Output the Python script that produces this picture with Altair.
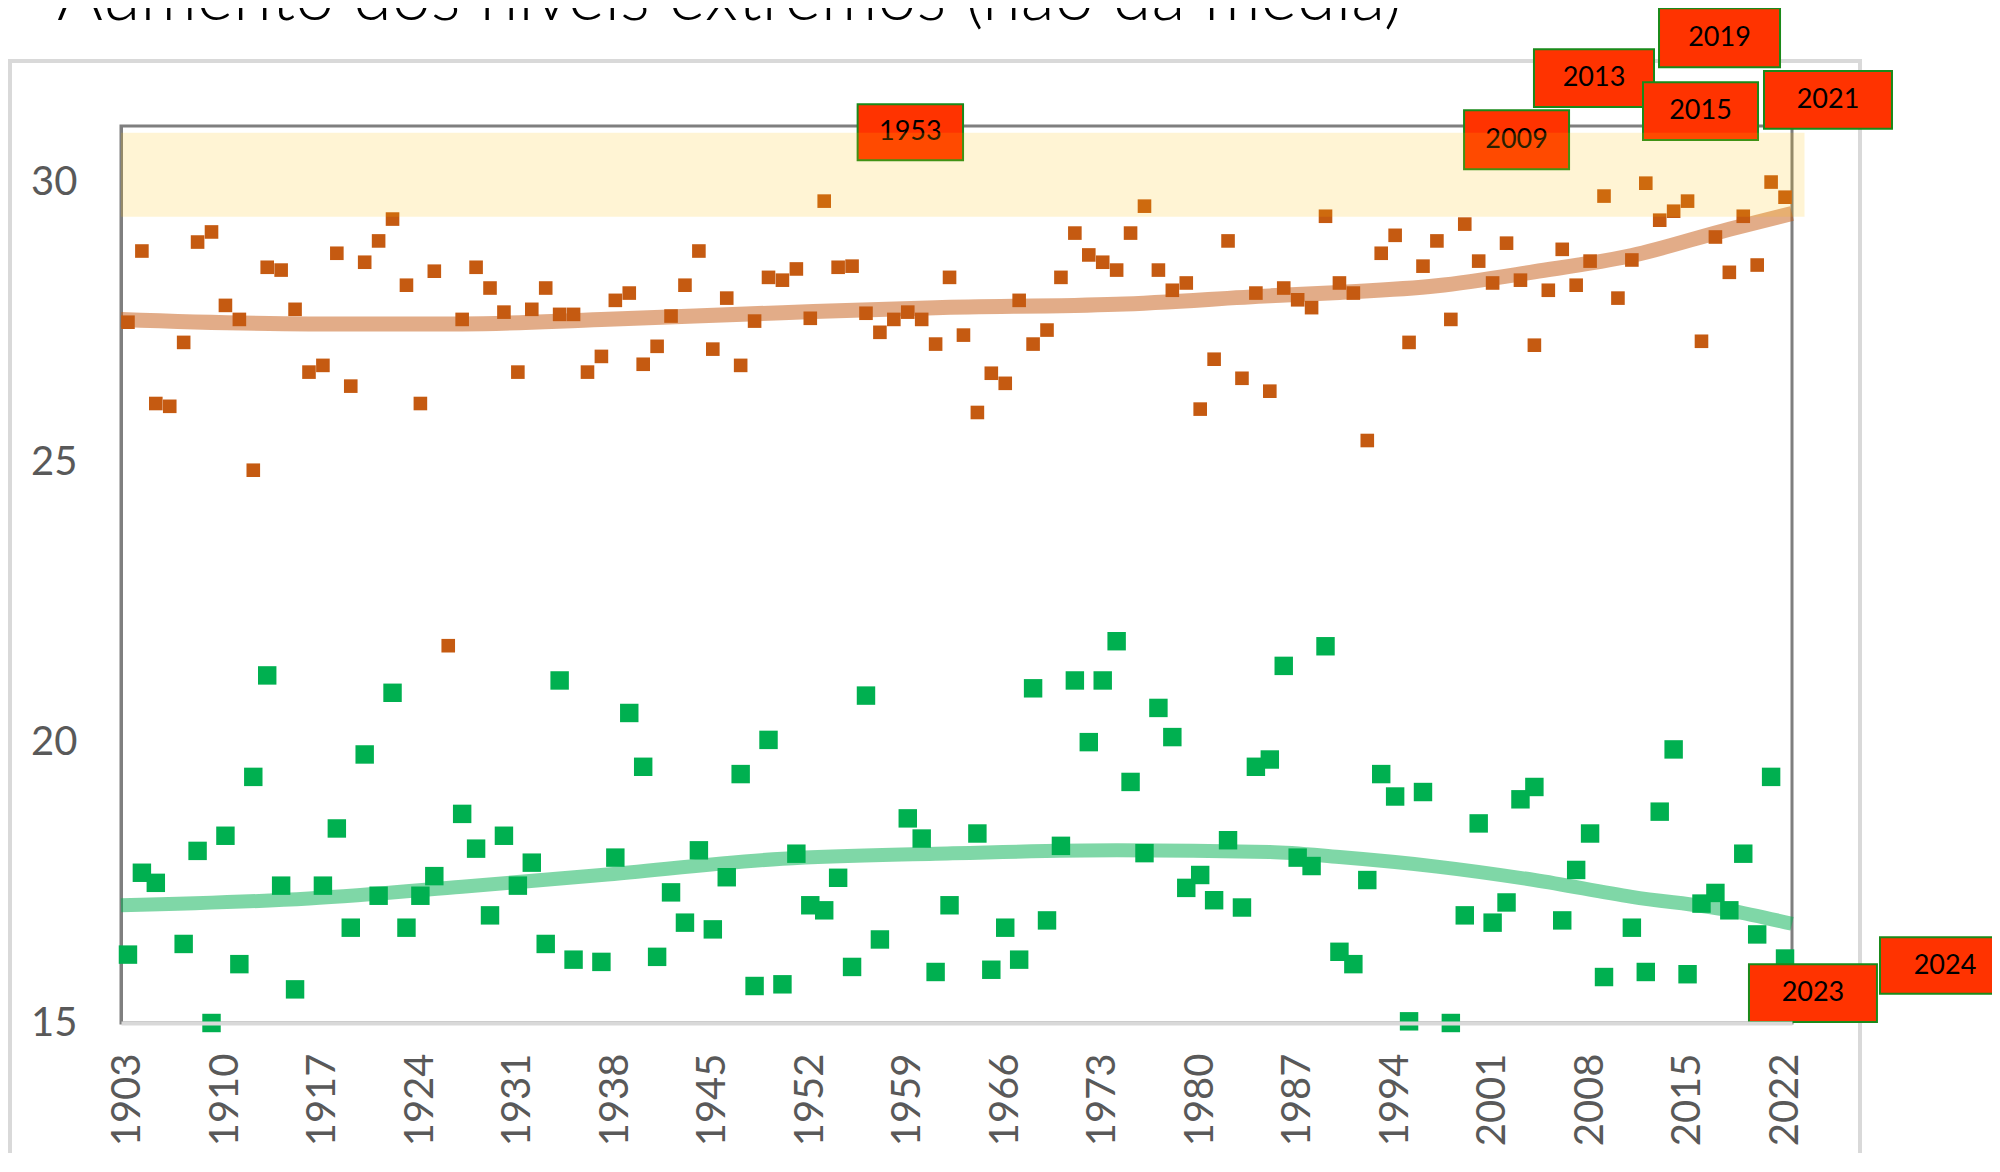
import altair as alt
import pandas as pd

# ---------------- data ----------------
years = list(range(1903, 2023))

orange_vals = [
    27.50, 28.77, 26.05, 26.00, 27.14, 28.93, 29.11, 27.80, 27.55, 24.86,  # 1903-1912
    28.48, 28.43, 27.73, 26.61, 26.73, 28.73, 26.36, 28.57, 28.95, 29.34,  # 1913-1922
    28.16, 26.05, 28.41, 21.73, 27.55, 28.48, 28.11, 27.68, 26.61, 27.73,  # 1923-1932
    28.11, 27.64, 27.64, 26.61, 26.89, 27.89, 28.02, 26.75, 27.07, 27.61,  # 1933-1942
    28.16, 28.77, 27.02, 27.93, 26.73, 27.52, 28.30, 28.25, 28.45, 27.57,  # 1943-1952
    29.66, 28.48, 28.50, 27.66, 27.32, 27.55, 27.68, 27.55, 27.11, 28.30,  # 1953-1962
    27.27, 25.89, 26.59, 26.41, 27.89, 27.11, 27.36, 28.30, 29.09, 28.70,  # 1963-1972
    28.57, 28.43, 29.09, 29.57, 28.43, 28.07, 28.20, 25.95, 26.84, 28.95,  # 1973-1982
    26.50, 28.02, 26.27, 28.11, 27.90, 27.76, 29.39, 28.20, 28.02, 25.39,  # 1983-1992
    28.73, 29.05, 27.14, 28.50, 28.95, 27.55, 29.25, 28.59, 28.20, 28.91,  # 1993-2002
    28.25, 27.09, 28.07, 28.80, 28.16, 28.59, 29.75, 27.93, 28.61, 29.98,  # 2003-2012
    29.32, 29.48, 29.66, 27.16, 29.02, 28.39, 29.39, 28.52, 30.00, 29.73,  # 2013-2022
]

green_vals = [
    16.22, 17.68, 17.50, None, 16.41, 18.07, 15.00, 18.34, 16.05, 19.39,  # 1903-1912
    21.20, 17.45, 15.60, None, 17.45, 18.47, 16.70, 19.79, 17.27, 20.89,  # 1913-1922
    16.70, 17.27, 17.62, None, 18.73, 18.11, 16.92, 18.34, 17.45, 17.86,  # 1923-1932
    16.41, 21.11, 16.13, None, 16.09, 17.95, 20.53, 19.57, 16.18, 17.33,  # 1933-1942
    16.79, 18.08, 16.67, 17.60, 19.44, 15.66, 20.05, 15.69, 18.02, 17.10,  # 1943-1952
    17.01, 17.59, 16.00, 20.84, 16.49, None, 18.65, 18.29, 15.91, 17.10,  # 1953-1962
    None, 18.38, 15.95, 16.70, 16.13, 20.97, 16.83, 18.16, 21.11, 20.01,  # 1963-1972
    21.11, 21.81, 19.30, 18.03, 20.62, 20.10, 17.41, 17.64, 17.19, 18.26,  # 1973-1982
    17.06, 19.57, 19.70, 21.37, 17.95, 17.80, 21.72, 16.27, 16.05, 17.55,  # 1983-1992
    19.44, 19.04, 15.03, 19.12, None, 15.00, 16.92, 18.56, 16.79, 17.15,  # 1993-2002
    18.99, 19.21, None, 16.83, 17.73, 18.38, 15.82, None, 16.70, 15.91,  # 2003-2012
    18.77, 19.88, 15.87, 17.13, 17.32, 17.01, 18.02, 16.58, 19.39, 16.15,  # 2013-2022
]

# trend lines
trend_years = [1902.5, 1916, 1927, 1937, 1950, 1961, 1974, 1985, 1990, 1997, 2004, 2011, 2018, 2022.5]
orange_trend = [27.55, 27.47, 27.47, 27.55, 27.67, 27.76, 27.82, 27.97, 28.03, 28.15, 28.40, 28.69, 29.16, 29.44]
green_trend = [17.10, 17.22, 17.43, 17.64, 17.93, 18.02, 18.08, 18.05, 17.96, 17.79, 17.55, 17.25, 17.01, 16.77]

tick_years = list(range(1903, 2023, 7))
y_ticks = [15, 20, 25, 30]

title_text = "Aumento dos níveis extremos (não da média)"

# highlighted "extreme" zone
band_x = [1902.5, 2023.4]
band_y = [29.38, 30.88]

# year call-outs (boxes in data units)
ann_label = ["1953", "2009", "2013", "2015", "2019", "2021", "2023", "2024"]
ann_x0 = [1955.4, 1998.95, 2003.97, 2011.8, 2012.95, 2020.49, 2019.41, 2028.82]
ann_x1 = [1962.97, 2006.49, 2012.59, 2020.06, 2021.64, 2029.68, 2028.6, 2038.15]
ann_y0 = [30.39, 30.23, 31.34, 30.75, 32.05, 30.95, 15.02, 15.52]
ann_y1 = [31.39, 31.28, 32.37, 31.78, 33.10, 31.98, 16.05, 16.53]

# ---------------- tables ----------------
orange_df = pd.DataFrame({"year": years, "value": orange_vals})
green_df = pd.DataFrame({"year": years, "value": green_vals}).dropna()
trend_df = pd.DataFrame({"year": trend_years, "orange": orange_trend, "green": green_trend})
ann_df = pd.DataFrame({"label": ann_label, "x0": ann_x0, "x1": ann_x1, "y0": ann_y0, "y1": ann_y1})
ann_df["xc"] = (ann_df["x0"] + ann_df["x1"]) / 2
ann_df["yc"] = (ann_df["y0"] + ann_df["y1"]) / 2
band_df = pd.DataFrame({"x0": [band_x[0]], "x1": [band_x[1]], "y0": [band_y[0]], "y1": [band_y[1]]})
title_df = pd.DataFrame({"t": [title_text]})
frame_df = pd.DataFrame({"k": [0]})

FONT = "Lato"
ORANGE = "#C55A11"
GREEN = "#00B050"

X_SCALE = alt.Scale(domain=[1902.5, 2022.5], nice=False, zero=False)
Y_SCALE = alt.Scale(domain=[15, 31], nice=False, zero=False)

x_axis = alt.Axis(values=tick_years, format="d", labelAngle=270, ticks=False, grid=False,
                  labelFont=FONT, labelFontSize=40, labelColor="#595959", labelPadding=30,
                  domainColor="#D9D9D9", domainWidth=4, labelOverlap=False, labelFlush=False,
                  labelBound=False, title=None, zindex=1)
y_axis = alt.Axis(values=y_ticks, ticks=False, grid=False, labelFont=FONT, labelFontSize=40,
                  labelColor="#595959", labelPadding=44, domainColor="#7F7F7F", domainWidth=3,
                  labelFlush=False, labelBound=False, title=None)


def xq(f):
    return alt.X(f"{f}:Q", scale=X_SCALE, axis=x_axis)


def yq(f):
    return alt.Y(f"{f}:Q", scale=Y_SCALE, axis=y_axis)


frame = alt.Chart(frame_df).mark_rect(fillOpacity=0, stroke="#D9D9D9", strokeWidth=4).encode(
    x=alt.value(-111), x2=alt.value(1739), y=alt.value(-65), y2=alt.value(1100)
)

title = alt.Chart(title_df).mark_text(
    align="left", baseline="alphabetic", font=FONT, fontSize=70, fontWeight=300, color="#000000"
).encode(x=alt.value(-64), y=alt.value(-106), text="t:N")

trend_o = alt.Chart(trend_df).mark_line(
    color=ORANGE, opacity=0.5, strokeWidth=15, interpolate="monotone", strokeCap="butt"
).encode(x=xq("year"), y=yq("orange"))

trend_g = alt.Chart(trend_df).mark_line(
    color=GREEN, opacity=0.5, strokeWidth=14, interpolate="monotone", strokeCap="butt"
).encode(x=xq("year"), y=yq("green"))

pts_o = alt.Chart(orange_df).mark_square(size=185, color=ORANGE, opacity=1).encode(
    x=xq("year"), y=yq("value")
)
pts_g = alt.Chart(green_df).mark_square(size=340, color=GREEN, opacity=1).encode(
    x=xq("year"), y=yq("value")
)

ann_box = alt.Chart(ann_df).mark_rect(fill="#FF3300", stroke="#1A8A1A", strokeWidth=2).encode(
    x=xq("x0"), x2="x1", y=yq("y0"), y2="y1"
)
ann_txt = alt.Chart(ann_df).mark_text(
    font=FONT, fontSize=27, color="#000000", align="center", baseline="middle"
).encode(x=xq("xc"), y=yq("yc"), text="label:N")

band = alt.Chart(band_df).mark_rect(fill="#FFC000", opacity=0.17).encode(
    x=xq("x0"), x2="x1", y=yq("y0"), y2="y1"
)

chart = alt.layer(
    frame, title, trend_o, trend_g, pts_o, pts_g, ann_box, ann_txt, band
).properties(
    width=1671,
    height=897,
    autosize=alt.AutoSizeParams(type="none"),
    padding={"left": 113, "top": 118, "right": 200, "bottom": 130},
    background="white",
).configure_view(
    stroke="#7F7F7F", strokeWidth=3
)

chart.save("out.html", embed_options={"renderer": "svg", "actions": False})
